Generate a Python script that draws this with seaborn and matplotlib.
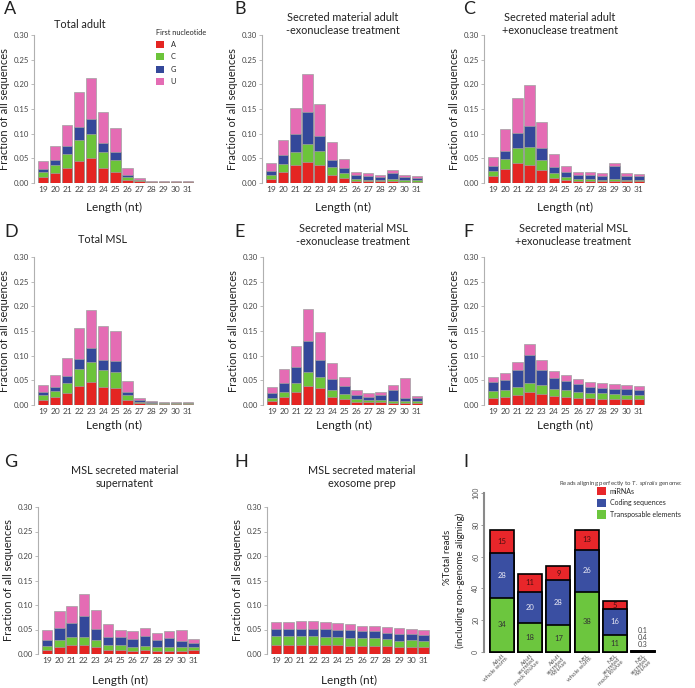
import numpy as np
import pandas as pd
import matplotlib
matplotlib.use("Agg")
import matplotlib.pyplot as plt
from matplotlib.patches import Patch
import seaborn as sns

sns.set_style("white")
plt.rcParams['font.family'] = ['Lato', 'DejaVu Sans']
plt.rcParams['mathtext.fontset'] = 'custom'
plt.rcParams['mathtext.it'] = 'Lato:italic'
plt.rcParams['mathtext.rm'] = 'Lato'

W, H = 695, 688

# read lengths on the x axis of panels A-H
lengths = [str(n) for n in range(19, 32)]
nucleotides = ['A', 'C', 'G', 'U']
nuc_colors = ['#e42522', '#6cc43a', '#34489a', '#e46cb4']

# A - total adult
adult_total_A = [.012, .021, .031, .045, .050, .030, .022, .006, .004, .002, .002, .002, .002]
adult_total_C = [.010, .016, .027, .043, .050, .033, .025, .007, .002, .0005, .0005, .0005, .0005]
adult_total_G = [.007, .010, .016, .025, .029, .019, .015, .004, .001, .0005, .0003, .0003, .0003]
adult_total_U = [.016, .027, .044, .072, .084, .061, .049, .014, .003, .0005, .0003, .0003, .0003]

# B - secreted adult, no exonuclease
adult_sec_minus_A = [.009, .023, .036, .042, .036, .017, .010, .005, .004, .004, .004, .003, .003]
adult_sec_minus_C = [.008, .015, .027, .037, .029, .015, .010, .004, .003, .003, .004, .003, .003]
adult_sec_minus_G = [.008, .018, .037, .064, .031, .014, .010, .007, .007, .006, .013, .006, .005]
adult_sec_minus_U = [.015, .031, .053, .077, .065, .038, .019, .007, .006, .004, .006, .005, .003]

# C - secreted adult, + exonuclease
adult_sec_plus_A = [.014, .029, .040, .037, .026, .011, .007, .004, .004, .004, .004, .004, .004]
adult_sec_plus_C = [.010, .019, .031, .035, .021, .009, .006, .004, .004, .003, .005, .003, .003]
adult_sec_plus_G = [.010, .017, .031, .043, .023, .012, .010, .008, .008, .008, .026, .007, .007]
adult_sec_plus_U = [.019, .045, .071, .083, .053, .026, .012, .007, .006, .006, .006, .007, .004]

# D - total MSL
msl_total_A = [.011, .017, .025, .038, .046, .036, .034, .011, .004, .003, .003, .003, .003]
msl_total_C = [.009, .012, .020, .034, .042, .035, .032, .009, .003, .002, .001, .001, .001]
msl_total_G = [.006, .008, .013, .022, .027, .021, .023, .006, .003, .001, .001, .001, .001]
msl_total_U = [.015, .024, .037, .062, .077, .068, .062, .023, .005, .002, .0005, .0005, .0005]

# E - secreted MSL, no exonuclease
msl_sec_minus_A = [.009, .017, .026, .038, .034, .017, .013, .007, .006, .006, .005, .005, .005]
msl_sec_minus_C = [.006, .010, .018, .028, .022, .014, .009, .005, .004, .004, .004, .004, .004]
msl_sec_minus_G = [.010, .017, .033, .064, .036, .021, .017, .009, .007, .010, .021, .005, .005]
msl_sec_minus_U = [.012, .029, .043, .065, .056, .034, .018, .010, .008, .007, .010, .041, .004]

# F - secreted MSL, + exonuclease
msl_sec_plus_A = [.015, .017, .020, .026, .022, .018, .017, .015, .014, .013, .012, .012, .012]
msl_sec_plus_C = [.014, .014, .016, .019, .018, .015, .014, .012, .011, .011, .010, .009, .009]
msl_sec_plus_G = [.017, .020, .034, .057, .031, .021, .017, .015, .012, .011, .011, .011, .010]
msl_sec_plus_U = [.011, .014, .017, .021, .020, .015, .013, .011, .010, .010, .010, .009, .008]

# G - MSL secreted supernatant
msl_super_A = [.009, .015, .018, .019, .015, .009, .009, .007, .008, .006, .007, .006, .008]
msl_super_C = [.007, .013, .016, .016, .013, .010, .009, .007, .009, .008, .007, .008, .006]
msl_super_G = [.012, .026, .029, .043, .024, .016, .016, .017, .019, .015, .019, .012, .009]
msl_super_U = [.020, .033, .035, .044, .038, .026, .015, .015, .018, .014, .014, .024, .008]

# H - MSL exosome prep
msl_exo_A = [.019, .019, .019, .019, .018, .018, .017, .017, .016, .016, .014, .015, .014]
msl_exo_C = [.017, .017, .017, .017, .017, .016, .016, .015, .016, .014, .013, .014, .013]
msl_exo_G = [.016, .016, .016, .016, .016, .015, .015, .014, .014, .013, .013, .012, .011]
msl_exo_U = [.014, .014, .015, .016, .014, .014, .013, .012, .011, .012, .013, .011, .010]

# I - genome-aligning reads
samples = ['Adult\nwhole worm', 'Adult\nsecreted\nmock RNAse', 'Adult\nsecreted\n+RNAse',
           'MSL\nwhole worm', 'MSL\nsecreted\nmock RNAse', 'MSL\nsecreted\n+RNAse']
transposable = [34, 18, 17, 38, 11, 0.3]
coding = [28, 20, 28, 26, 16, 0.4]
mirna = [15, 11, 9, 13, 5, 0.1]
cat_colors = {'miRNAs': '#e8262a', 'Coding sequences': '#3a4fa2', 'Transposable elements': '#6cc63e'}


def rect(l, t, r, b):
    return [l / W, 1 - b / H, (r - l) / W, (b - t) / H]


def ftext(x, y, s, **kw):
    fig.text(x / W, 1 - y / H, s, **kw)


fig = plt.figure(figsize=(W / 100, H / 100), dpi=100)

panels = [
    ('A', ['Total adult'], (adult_total_A, adult_total_C, adult_total_G, adult_total_U),
     (34, 35, 195, 183), (4, 9), (80, 24), 207),
    ('B', ['Secreted material adult', '-exonuclease treatment'],
     (adult_sec_minus_A, adult_sec_minus_C, adult_sec_minus_G, adult_sec_minus_U),
     (262, 35, 424, 183), (234, 9), (343, 24), 207),
    ('C', ['Secreted material adult', '+exonuclease treatment'],
     (adult_sec_plus_A, adult_sec_plus_C, adult_sec_plus_G, adult_sec_plus_U),
     (484, 35, 646, 183), (463, 9), (560, 24), 207),
    ('D', ['Total MSL'], (msl_total_A, msl_total_C, msl_total_G, msl_total_U),
     (34, 257, 195, 405), (4, 232), (103, 239), 425),
    ('E', ['Secreted material MSL', '-exonuclease treatment'],
     (msl_sec_minus_A, msl_sec_minus_C, msl_sec_minus_G, msl_sec_minus_U),
     (263, 257, 424, 405), (234, 232), (353, 235), 425),
    ('F', ['Secreted material MSL', '+exonuclease treatment'],
     (msl_sec_plus_A, msl_sec_plus_C, msl_sec_plus_G, msl_sec_plus_U),
     (484, 257, 646, 405), (463, 232), (573, 235), 425),
    ('G', ['MSL secreted material', 'supernatent'],
     (msl_super_A, msl_super_C, msl_super_G, msl_super_U),
     (38, 507, 201, 654), (4, 462), (125, 477), 680),
    ('H', ['MSL secreted material', 'exosome prep'],
     (msl_exo_A, msl_exo_C, msl_exo_G, msl_exo_U),
     (267, 507, 431, 654), (234, 462), (362, 477), 680),
]

for letter, title, parts, box, lpos, tpos, xlab_y in panels:
    ax = fig.add_axes(rect(*box))
    cum = np.cumsum(np.array(parts), axis=0)
    for i in range(3, -1, -1):
        sns.barplot(x=lengths, y=cum[i], color=nuc_colors[i], saturation=1, width=0.85,
                    edgecolor='#a0a0a0', linewidth=0.5, ax=ax)
    ax.set_ylim(0, 0.30)
    ax.set_xlim(-0.75, 12.6)
    yt = np.arange(0, 0.31, 0.05)
    ax.set_yticks(yt)
    ax.set_yticklabels([f'{v:.2f}' for v in yt])
    for s in ['top', 'right', 'bottom']:
        ax.spines[s].set_visible(False)
    ax.spines['left'].set_color('#b0b0b0')
    ax.spines['left'].set_linewidth(0.8)
    ax.tick_params(axis='x', length=0, labelsize=6, pad=2, labelcolor='#444444')
    ax.tick_params(axis='y', left=True, length=2, width=0.6, color='#b0b0b0', labelsize=5.6,
                   labelcolor='#444444', pad=1.5)
    ax.set_xlabel('')
    ax.set_ylabel('Fraction of all sequences', fontsize=8, labelpad=2.5, color='#222222')
    ftext((box[0] + box[2]) / 2, xlab_y, 'Length (nt)', fontsize=8.5, ha='center', va='center',
          color='#222222')
    ftext(lpos[0], lpos[1], letter, fontsize=13, ha='left', va='center', color='#222222')
    ftext(tpos[0], tpos[1], '\n'.join(title), fontsize=7.8, ha='center', va='center',
          color='#222222', linespacing=1.25)
    if letter == 'A':
        handles = [Patch(facecolor=c, edgecolor='none') for c in nuc_colors]
        leg = ax.legend(handles, nucleotides, title='First nucleotide', loc='upper left',
                        bbox_to_anchor=(156 / W, 1 - 29 / H), bbox_transform=fig.transFigure,
                        frameon=False, fontsize=5.3, title_fontsize=5.3, handlelength=1.1,
                        handleheight=1.1, labelspacing=0.7, borderpad=0, borderaxespad=0,
                        handletextpad=0.9)
        leg._legend_box.align = 'left'

# panel I
axi = fig.add_axes(rect(484, 493, 660, 652))
cum_i = np.cumsum(np.array([transposable, coding, mirna]), axis=0)
layer_colors = [cat_colors['Transposable elements'], cat_colors['Coding sequences'], cat_colors['miRNAs']]
for i in range(2, -1, -1):
    sns.barplot(x=samples, y=cum_i[i], color=layer_colors[i], saturation=1, width=0.85,
                edgecolor='black', linewidth=1.2, ax=axi)
for p in axi.patches:
    p.set_clip_on(False)
axi.set_ylim(0, 100)
axi.set_xlim(-0.64, 5.6)
axi.set_yticks(range(0, 101, 20))
axi.set_yticklabels([str(v) for v in range(0, 101, 20)], rotation=90, va='center')
for s in ['top', 'right', 'bottom']:
    axi.spines[s].set_visible(False)
axi.spines['left'].set_color('#8a8a8a')
axi.spines['left'].set_linewidth(1.5)
axi.tick_params(axis='y', left=True, length=2, width=0.6, color='#8a8a8a', labelsize=5,
                labelcolor='#555555', pad=1.5)
axi.tick_params(axis='x', length=0, labelsize=4.3, labelcolor='#555555', pad=0.5)
axi.set_xticks(range(len(samples)))
axi.set_xticklabels(samples, rotation=45, ha='right', rotation_mode='anchor', linespacing=0.85)
axi.set_xlabel('')
axi.set_ylabel('')

layers = [transposable, coding, mirna]
txt_colors = ['#333333', '#e8e8f4', '#4a1010']
for j in range(len(samples) - 1):
    base = 0
    for k, vals in enumerate(layers):
        axi.text(j, base + vals[j] / 2, f'{vals[j]:g}', ha='center', va='center', fontsize=5.5,
                 color=txt_colors[k])
        base += vals[j]
last = len(samples) - 1
axi.text(last, 2.5, f'{mirna[last]:g}\n{coding[last]:g}\n{transposable[last]:g}', ha='center',
         va='bottom', fontsize=5, color='#444444', linespacing=1.0)

ftext(447, 557, '%Total reads', rotation=90, fontsize=7, ha='center', va='center', color='#222222')
ftext(460, 580, '(including non-genome aligning)', rotation=90, fontsize=7, ha='center',
      va='center', color='#222222')
ftext(463, 462, 'I', fontsize=13, ha='left', va='center', color='#222222')

ftext(621, 483, r'Reads aligning perfectly to $\it{T.\ spiralis}$ genome:', fontsize=4.4,
      ha='center', va='center', color='#444444')
handles_i = [Patch(facecolor=cat_colors[k], edgecolor='none') for k in cat_colors]
axi.legend(handles_i, list(cat_colors), loc='upper left', bbox_to_anchor=(597 / W, 1 - 487 / H),
           bbox_transform=fig.transFigure, frameon=False, fontsize=5, handlelength=1.3,
           handleheight=1.5, labelspacing=0.45, borderpad=0, borderaxespad=0, handletextpad=0.5)

fig.savefig('out.png', dpi=100)
